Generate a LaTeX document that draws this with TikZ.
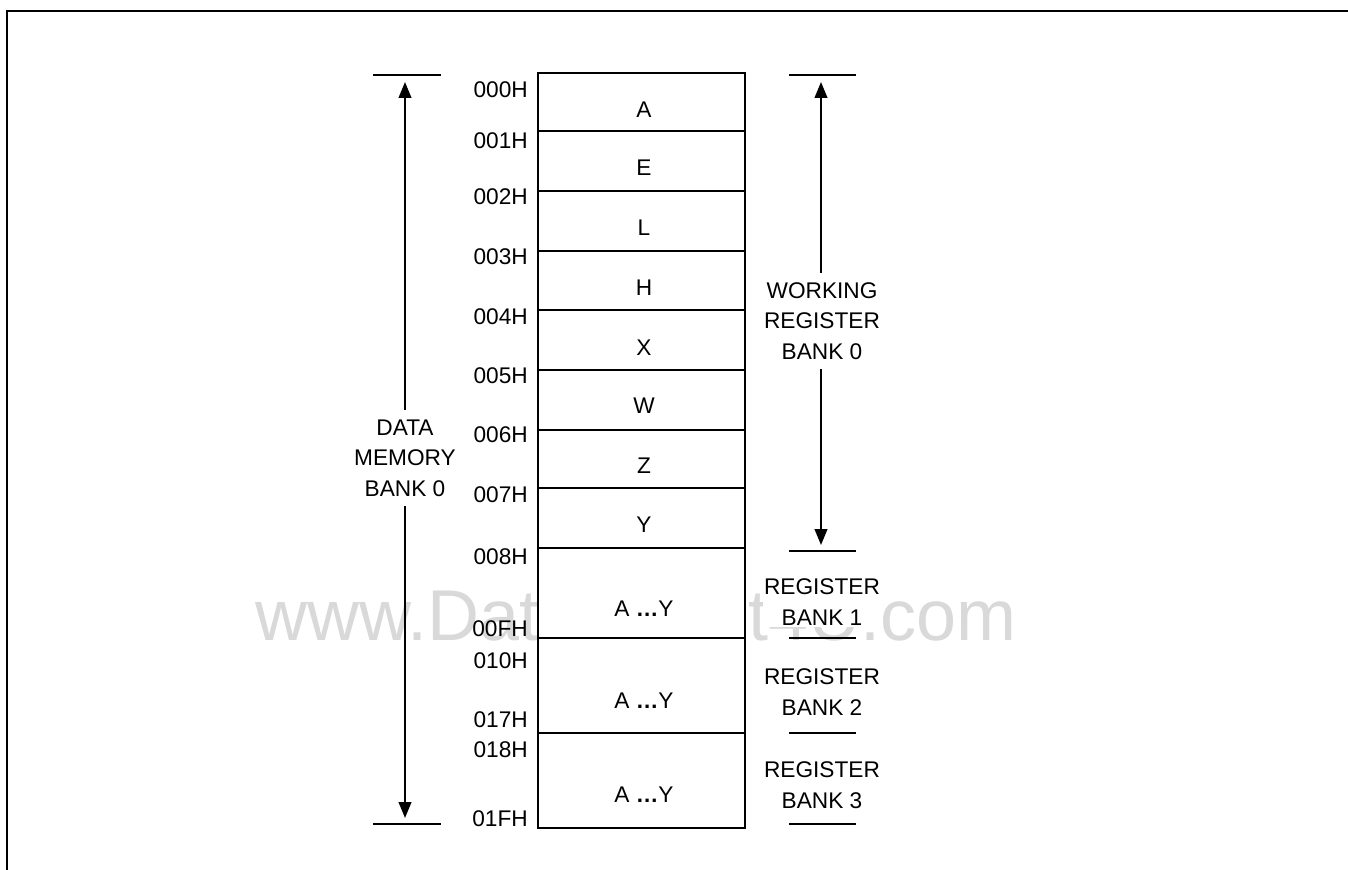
\documentclass[tikz,border=0pt]{standalone}
\usepackage{fontspec}
\setmainfont{Liberation Sans}
\usetikzlibrary{arrows.meta}
\begin{document}
\begin{tikzpicture}[x=0.75pt,y=-0.75pt,
  lbl/.style={font=\fontsize{17}{23}\selectfont, inner sep=0pt, align=center},
  addr/.style={lbl, anchor=east},
  dimtext/.style={lbl, fill=white, inner xsep=2pt, inner ysep=7pt},
  banktext/.style={lbl, fill=white, inner xsep=1pt, inner ysep=1pt},
  frame/.style={line width=1.5pt},
  boxline/.style={line width=1.5pt},
  bar/.style={line width=1.5pt},
  dimarrow/.style={line width=1.5pt, {Triangle[length=12pt,width=9.5pt]}-{Triangle[length=12pt,width=9.5pt]}},
  watermark/.style={font=\fontsize{54}{54}\selectfont, text=gray!30, anchor=base, inner sep=0pt}]
\useasboundingbox (0,0) rectangle (1348,870);
% watermark
\node[watermark] (wm) at (636,640) {www.DataSheet4U.com};
% frame
\draw[frame] (7,872) -- (7,11) -- (1350,11);
% memory box
\draw[boxline, fill=white] (538,73) rectangle (745,828);
\foreach \yy in {131,191,251,310,370,430,488,548,638,733}
  \draw[boxline] (538,\yy) -- (745,\yy);
% cell labels
\node[lbl] (cA) at (644,110) {A};
\node[lbl] (cE) at (644,168) {E};
\node[lbl] (cL) at (644,228) {L};
\node[lbl] (cH) at (644,288) {H};
\node[lbl] (cX) at (644,348) {X};
\node[lbl] (cW) at (644,406) {W};
\node[lbl] (cZ) at (644,466) {Z};
\node[lbl] (cY) at (644,525) {Y};
\node[lbl] (c1) at (644,609) {A {\bfseries …}Y};
\node[lbl] (c2) at (644,701) {A {\bfseries …}Y};
\node[lbl] (c3) at (644,795) {A {\bfseries …}Y};
% addresses
\node[addr] (a000) at (528,90) {000H};
\node[addr] (a001) at (528,141) {001H};
\node[addr] (a002) at (528,197) {002H};
\node[addr] (a003) at (528,257) {003H};
\node[addr] (a004) at (528,317) {004H};
\node[addr] (a005) at (528,376) {005H};
\node[addr] (a006) at (528,435) {006H};
\node[addr] (a007) at (528,495) {007H};
\node[addr] (a008) at (528,557) {008H};
\node[addr] (a00F) at (528,629) {00FH};
\node[addr] (a010) at (528,661) {010H};
\node[addr] (a017) at (528,720) {017H};
\node[addr] (a018) at (528,750) {018H};
\node[addr] (a01F) at (528,819) {01FH};
% left dimension
\coordinate (dtopL) at (373,75);  \coordinate (dtopR) at (441,75);
\coordinate (dbotL) at (373,824); \coordinate (dbotR) at (441,824);
\coordinate (dtip1) at (405,82);  \coordinate (dtip2) at (405,818);
\draw[bar] (dtopL) -- (dtopR);
\draw[bar] (dbotL) -- (dbotR);
\draw[dimarrow] (dtip1) -- (dtip2);
\node[dimtext] (dmem) at (405,458) {DATA\\MEMORY\\BANK 0};
% right dimension
\coordinate (wtopL) at (789,75);  \coordinate (wtopR) at (856,75);
\coordinate (w1L) at (789,551);   \coordinate (w1R) at (856,551);
\coordinate (w2L) at (789,638);   \coordinate (w2R) at (856,638);
\coordinate (w3L) at (789,733);   \coordinate (w3R) at (856,733);
\coordinate (w4L) at (789,824);   \coordinate (w4R) at (856,824);
\coordinate (wtip1) at (821,82);  \coordinate (wtip2) at (821,545);
\draw[bar] (wtopL) -- (wtopR);
\draw[bar] (w1L) -- (w1R);
\draw[bar] (w2L) -- (w2R);
\draw[bar] (w3L) -- (w3R);
\draw[bar] (w4L) -- (w4R);
\draw[dimarrow] (wtip1) -- (wtip2);
\node[dimtext] (wrb) at (822,321) {WORKING\\REGISTER\\BANK 0};
\node[banktext] (rb1) at (822,602) {REGISTER\\BANK 1};
\node[banktext] (rb2) at (822,692) {REGISTER\\BANK 2};
\node[banktext] (rb3) at (822,785) {REGISTER\\BANK 3};
\end{tikzpicture}
\end{document}
